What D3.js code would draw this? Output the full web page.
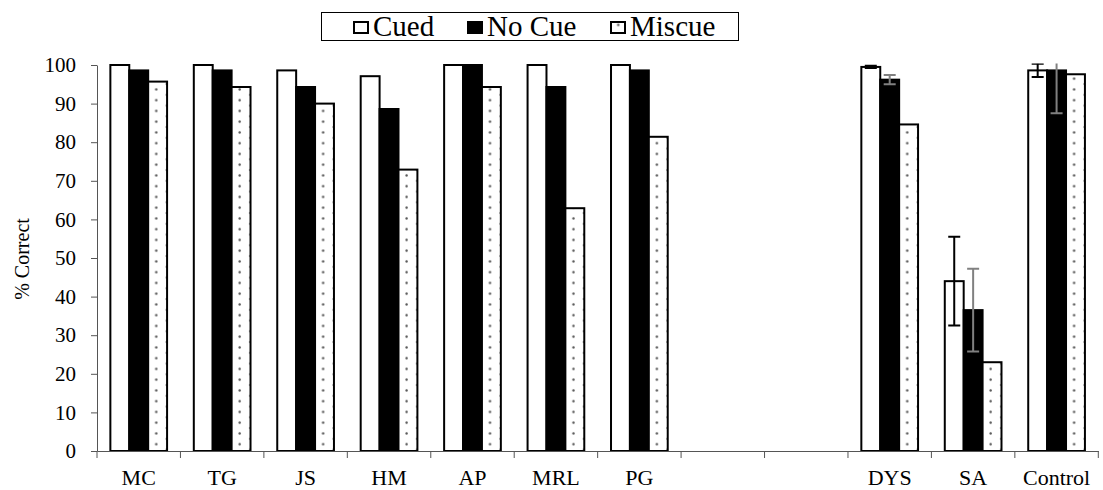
<!DOCTYPE html>
<html>
<head>
<meta charset="utf-8">
<script src="https://cdn.jsdelivr.net/npm/d3@7/dist/d3.min.js"></script>
<style>
  html, body { margin: 0; padding: 0; background: #fff; }
  svg { display: block; }
  text { font-family: "Liberation Serif", "Times New Roman", Times, "DejaVu Serif", serif; fill: #000; }
</style>
</head>
<body>
<svg id="chart" width="1103" height="490"></svg>
<script>
// Participants (two empty slots separate individual cases from group means)
const categories = ["MC", "TG", "JS", "HM", "AP", "MRL", "PG", "", "", "DYS", "SA", "Control"];
const seriesNames = ["Cued", "No Cue", "Miscue"];

// % correct per condition (null = no bar in that slot)
const cued   = [100, 100, 98.6, 97.1, 100, 100, 100, null, null, 99.5, 44.0, 98.6];
const noCue  = [98.6, 98.6, 94.3, 88.6, 100, 94.3, 98.6, null, null, 96.2, 36.5, 98.6];
const miscue = [95.7, 94.3, 90.0, 72.9, 94.3, 62.9, 81.4, null, null, 84.6, 23.0, 97.6];

// Error bar half-widths for group means
const cuedErr  = [null, null, null, null, null, null, null, null, null, 0.3, 11.5, 1.7];
const noCueErr = [null, null, null, null, null, null, null, null, null, 1.2, 10.7, 11.1];

const yTicks = [0, 10, 20, 30, 40, 50, 60, 70, 80, 90, 100];

const serif = '"Liberation Serif", "Times New Roman", Times, "DejaVu Serif", serif';
const svg = d3.select("#chart");

const x = d3.scaleBand().domain(d3.range(categories.length)).range([97, 1098.3]).padding(0);
const xs = d3.scaleBand().domain(seriesNames).range([0, x.bandwidth()]).paddingInner(0).paddingOuter(0.707);
const y = d3.scaleLinear().domain([0, 100]).range([451, 65]);

// Miscue fill: sparse staggered dots
const defs = svg.append("defs");
const pat = defs.append("pattern")
  .attr("id", "dots")
  .attr("patternUnits", "userSpaceOnUse")
  .attr("width", 21.5).attr("height", 10.75);
pat.append("rect").attr("width", 21.5).attr("height", 10.75).attr("fill", "#fff");
pat.append("circle").attr("cx", 5.5).attr("cy", 8.75).attr("r", 1.2).attr("fill", "#555");
pat.append("circle").attr("cx", 16.25).attr("cy", 3.375).attr("r", 1.2).attr("fill", "#555");

defs.append("clipPath").attr("id", "plotClip")
  .append("rect").attr("x", 90).attr("y", y(100) - 1.5).attr("width", 1020).attr("height", 420);

const fills = { "Cued": "#fff", "No Cue": "#000", "Miscue": "url(#dots)" };
const seriesData = { "Cued": cued, "No Cue": noCue, "Miscue": miscue };

// Y axis
const yAxis = svg.append("g")
  .attr("transform", `translate(${x.range()[0]},0)`)
  .call(d3.axisLeft(y).tickValues(yTicks).tickSize(6).tickSizeOuter(0).tickPadding(15));
yAxis.attr("font-family", null).attr("font-size", null);
yAxis.select(".domain").attr("stroke", "#555");
yAxis.selectAll(".tick line").attr("stroke", "#555");
yAxis.selectAll(".tick text")
  .style("font-family", serif)
  .style("font-size", "21px").attr("fill", "#000");

// Y axis title
svg.append("text")
  .attr("transform", `translate(29,${(y(0) + y(100)) / 2 + 1}) rotate(-90)`)
  .attr("text-anchor", "middle")
  .style("font-family", serif)
  .style("font-size", "20px")
  .text("% Correct");

// Bars
const groups = svg.append("g").selectAll("g")
  .data(categories.map((c, i) => i))
  .join("g")
  .attr("transform", i => `translate(${x(i)},0)`);

seriesNames.forEach(name => {
  groups.filter(i => seriesData[name][i] != null)
    .append("rect")
    .attr("x", xs(name))
    .attr("width", xs.bandwidth())
    .attr("y", i => y(seriesData[name][i]))
    .attr("height", i => y(0) - y(seriesData[name][i]))
    .attr("fill", fills[name])
    .attr("stroke", "#000")
    .attr("stroke-width", 2);
});

// Error bars
function errorBars(name, values, errs, color) {
  const g = svg.append("g").attr("clip-path", "url(#plotClip)");
  const idx = d3.range(categories.length).filter(i => errs[i] != null);
  const cx = i => x(i) + xs(name) + xs.bandwidth() / 2;
  g.selectAll("line.v").data(idx).join("line")
    .attr("x1", cx).attr("x2", cx)
    .attr("y1", i => y(values[i] + errs[i]))
    .attr("y2", i => y(values[i] - errs[i]))
    .attr("stroke", color).attr("stroke-width", 2);
  [1, -1].forEach(sgn => {
    g.selectAll(null).data(idx).join("line")
      .attr("x1", i => cx(i) - 6).attr("x2", i => cx(i) + 6)
      .attr("y1", i => y(values[i] + sgn * errs[i]))
      .attr("y2", i => y(values[i] + sgn * errs[i]))
      .attr("stroke", color).attr("stroke-width", 2);
  });
}
errorBars("Cued", cued, cuedErr, "#000");
errorBars("No Cue", noCue, noCueErr, "#808080");

// X axis line, category labels and boundary ticks
const xAxis = svg.append("g")
  .attr("transform", `translate(0,${y(0)})`)
  .call(d3.axisBottom(x).tickSize(0).tickSizeOuter(0).tickPadding(0).tickFormat(i => categories[i]));
xAxis.attr("font-family", null).attr("font-size", null);
xAxis.select(".domain").attr("stroke", "#555");
xAxis.selectAll(".tick text")
  .attr("y", 34).attr("dy", 0)
  .style("font-family", serif)
  .style("font-size", "22px").attr("fill", "#000");

svg.append("g").selectAll("line")
  .data(d3.range(categories.length + 1))
  .join("line")
  .attr("x1", i => i < categories.length ? x(i) : x.range()[1])
  .attr("x2", i => i < categories.length ? x(i) : x.range()[1])
  .attr("y1", y(0)).attr("y2", y(0) + 7)
  .attr("stroke", "#555").attr("stroke-width", 1);

// Legend
const legend = svg.append("g");
legend.append("rect")
  .attr("x", 321.5).attr("y", 12.5).attr("width", 417).attr("height", 28)
  .attr("fill", "#fff").attr("stroke", "#000").attr("stroke-width", 1);
const legendPos = [354, 468, 611];
seriesNames.forEach((name, k) => {
  legend.append("rect")
    .attr("x", legendPos[k]).attr("y", 22)
    .attr("width", 14).attr("height", 11)
    .attr("fill", fills[name]).attr("stroke", "#000").attr("stroke-width", 2);
  legend.append("text")
    .attr("x", legendPos[k] + 19).attr("y", 36)
    .style("font-family", serif)
    .style("font-size", "29px")
    .text(name);
});
</script>
</body>
</html>
